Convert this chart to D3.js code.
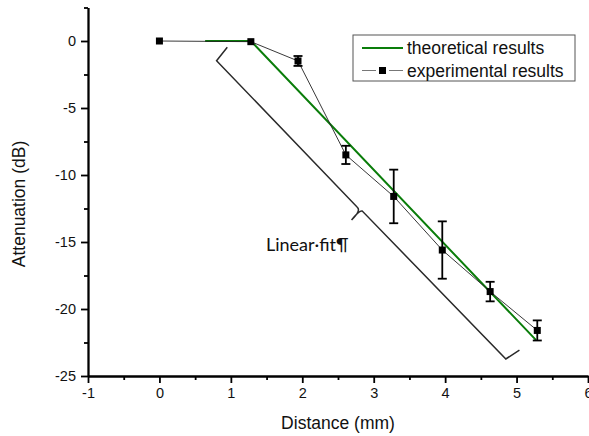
<!DOCTYPE html>
<html>
<head>
<meta charset="utf-8">
<script src="https://cdnjs.cloudflare.com/ajax/libs/d3/7.8.5/d3.min.js"></script>
<style>
  body { margin: 0; background: #fff; }
  svg { display: block; }
  .axis text { font-family: "Liberation Sans", Arial, sans-serif; font-size: 14.5px; fill: #111; }
  .axis path, .axis line { stroke: #000; stroke-width: 1.8px; }
  .title { font-family: "Liberation Sans", Arial, sans-serif; font-size: 17.5px; fill: #111; }
</style>
</head>
<body>
<svg id="chart" width="589" height="436"></svg>
<script>
// experimental results
var distance = [0, 1.28, 1.94, 2.61, 3.28, 3.96, 4.63, 5.29];
var attenuation = [0, -0.05, -1.49, -8.5, -11.6, -15.6, -18.7, -21.6];
var errors = [0, 0, 0.37, 0.68, 2.0, 2.14, 0.73, 0.75];

// theoretical results
var theoDistance = [0.64, 1.28, 5.27];
var theoAttenuation = [0, 0, -22.3];

// ticks
var xTicks = [-1, 0, 1, 2, 3, 4, 5, 6];
var yTicks = [-25, -20, -15, -10, -5, 0];

// "Linear fit" brace, in data units
var braceX = [0.95, 0.80, 2.77, 2.69, 2.84, 4.85, 5.04];
var braceY = [-0.47, -1.47, -12.41, -13.36, -12.69, -23.73, -23.06];

var svg = d3.select('#chart');

var x = d3.scaleLinear().domain([-1, 6]).range([88, 588]);
var y = d3.scaleLinear().domain([-25, 2.5]).range([376, 7.5]);

function plain(d) { return String(d); }

// minor ticks
svg.append('g')
  .attr('class', 'axis')
  .attr('transform', 'translate(0,376)')
  .call(d3.axisBottom(x).tickValues(d3.range(-0.5, 6, 1)).tickSize(4).tickSizeOuter(0).tickFormat(''));
svg.append('g')
  .attr('class', 'axis')
  .attr('transform', 'translate(88,0)')
  .call(d3.axisLeft(y).tickValues(d3.range(-22.5, 3, 5)).tickSize(4).tickSizeOuter(0).tickFormat(''));

// major ticks
svg.append('g')
  .attr('class', 'axis')
  .attr('transform', 'translate(0,376)')
  .call(d3.axisBottom(x).tickValues(xTicks).tickSize(7).tickSizeOuter(0).tickPadding(5).tickFormat(plain));
svg.append('g')
  .attr('class', 'axis')
  .attr('transform', 'translate(88,0)')
  .call(d3.axisLeft(y).tickValues(yTicks).tickSize(7).tickSizeOuter(0).tickPadding(5).tickFormat(plain));

// axis titles
svg.append('text')
  .attr('class', 'title')
  .attr('x', 338)
  .attr('y', 429)
  .attr('text-anchor', 'middle')
  .text('Distance (mm)');

svg.append('text')
  .attr('class', 'title')
  .attr('transform', 'translate(25,204) rotate(-90)')
  .attr('text-anchor', 'middle')
  .text('Attenuation (dB)');

// brace annotation
var bp = braceX.map(function(d, i) { return [x(d), y(braceY[i])]; });
var brace = 'M' + bp[0] + 'L' + bp[1] + 'L' + bp[2] +
  'Q' + [bp[2][0] + 4, bp[2][1] + 3] + ' ' + bp[3] +
  'Q' + [bp[4][0] - 3, bp[4][1] - 1] + ' ' + bp[4] +
  'L' + bp[5] + 'L' + bp[6];
svg.append('path')
  .attr('d', brace)
  .attr('fill', 'none')
  .attr('stroke', '#2a2a2a')
  .attr('stroke-width', 1.5);

svg.append('text')
  .attr('x', 266)
  .attr('y', 251)
  .attr('font-family', 'Lato, "Open Sans", sans-serif')
  .attr('font-size', 18)
  .attr('fill', '#111')
  .text('Linear\u00b7fit\u00b6');

// theoretical line
var line = d3.line()
  .x(function(d) { return x(d[0]); })
  .y(function(d) { return y(d[1]); });

svg.append('path')
  .datum(d3.zip(theoDistance, theoAttenuation))
  .attr('d', line)
  .attr('fill', 'none')
  .attr('stroke', '#0a7d0a')
  .attr('stroke-width', 2);

// experimental line
var pts = d3.zip(distance, attenuation, errors);

svg.append('path')
  .datum(pts)
  .attr('d', line)
  .attr('fill', 'none')
  .attr('stroke', '#222')
  .attr('stroke-width', 0.9);

// error bars
var eb = svg.append('g')
  .selectAll('g')
  .data(pts.filter(function(d) { return d[2] > 0; }))
  .enter().append('g')
  .attr('stroke', '#000')
  .attr('stroke-width', 1.8);

eb.append('line')
  .attr('x1', function(d) { return x(d[0]); })
  .attr('x2', function(d) { return x(d[0]); })
  .attr('y1', function(d) { return y(d[1] + d[2]); })
  .attr('y2', function(d) { return y(d[1] - d[2]); });
eb.append('line')
  .attr('x1', function(d) { return x(d[0]) - 4.5; })
  .attr('x2', function(d) { return x(d[0]) + 4.5; })
  .attr('y1', function(d) { return y(d[1] + d[2]); })
  .attr('y2', function(d) { return y(d[1] + d[2]); });
eb.append('line')
  .attr('x1', function(d) { return x(d[0]) - 4.5; })
  .attr('x2', function(d) { return x(d[0]) + 4.5; })
  .attr('y1', function(d) { return y(d[1] - d[2]); })
  .attr('y2', function(d) { return y(d[1] - d[2]); });

svg.append('g')
  .selectAll('rect')
  .data(pts)
  .enter().append('rect')
  .attr('x', function(d) { return x(d[0]) - 3.5; })
  .attr('y', function(d) { return y(d[1]) - 3.5; })
  .attr('width', 7)
  .attr('height', 7)
  .attr('fill', '#000');

// legend
var legend = svg.append('g').attr('transform', 'translate(353,35)');

legend.append('rect')
  .attr('width', 222)
  .attr('height', 46)
  .attr('fill', '#fff')
  .attr('stroke', '#555')
  .attr('stroke-width', 1);

legend.append('line')
  .attr('x1', 9).attr('x2', 50)
  .attr('y1', 13).attr('y2', 13)
  .attr('stroke', '#0a7d0a')
  .attr('stroke-width', 2);

legend.append('line')
  .attr('x1', 9).attr('x2', 50)
  .attr('y1', 35.5).attr('y2', 35.5)
  .attr('stroke', '#777')
  .attr('stroke-width', 1.2)
  .attr('stroke-dasharray', '14,4,5,4,14');

legend.append('rect')
  .attr('x', 26).attr('y', 32)
  .attr('width', 7).attr('height', 7)
  .attr('fill', '#000');

legend.append('text')
  .attr('class', 'title')
  .attr('x', 54).attr('y', 19)
  .text('theoretical results');

legend.append('text')
  .attr('class', 'title')
  .attr('x', 54).attr('y', 41.5)
  .text('experimental results');
</script>
</body>
</html>
